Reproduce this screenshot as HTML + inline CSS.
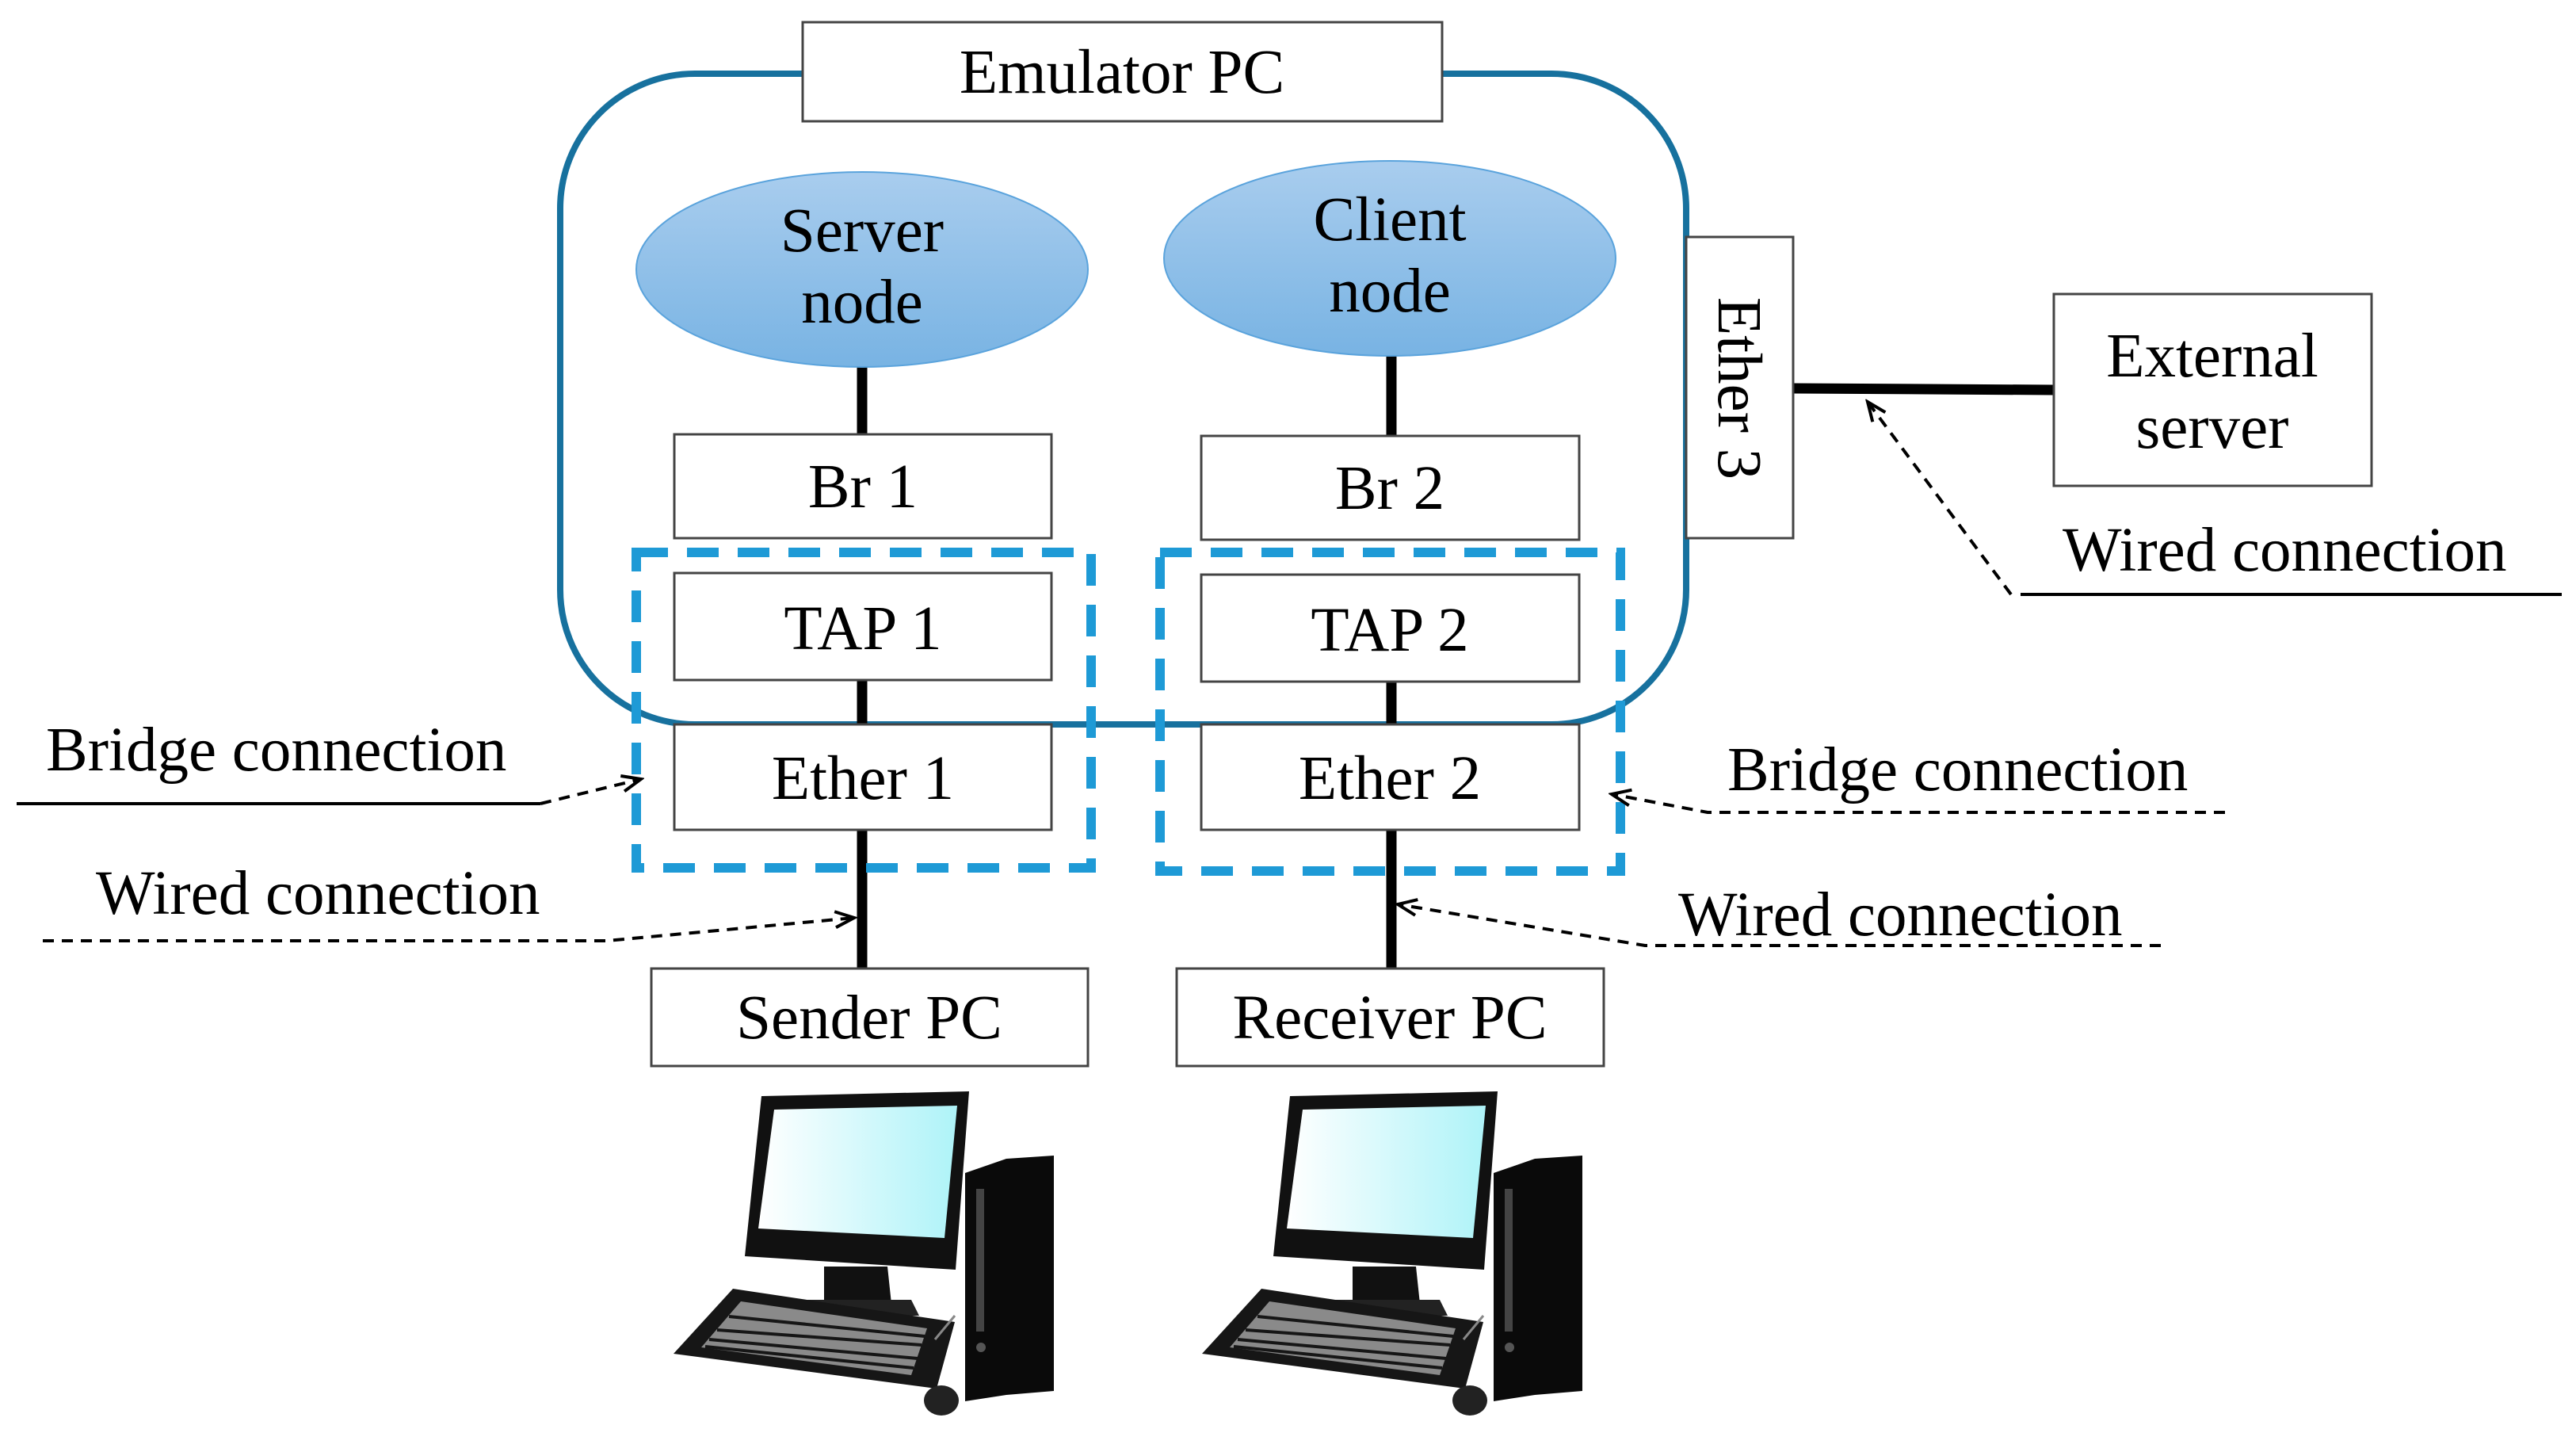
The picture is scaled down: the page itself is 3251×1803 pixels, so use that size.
<!DOCTYPE html>
<html><head><meta charset="utf-8"><style>
html,body{margin:0;padding:0;background:#fff;}
svg{display:block;}
text{font-family:"Liberation Serif",serif;font-size:79px;fill:#000;}
</style></head><body>
<svg width="3251" height="1803" viewBox="0 0 3251 1803" xmlns="http://www.w3.org/2000/svg">
<defs>
<linearGradient id="eg" x1="0" y1="0" x2="0" y2="1">
<stop offset="0" stop-color="#a9cdee"/><stop offset="1" stop-color="#78b3e3"/>
</linearGradient>
<linearGradient id="sg" x1="0" y1="0" x2="1" y2="0">
<stop offset="0" stop-color="#ffffff"/><stop offset="1" stop-color="#aef3f8"/>
</linearGradient>
<marker id="ah" markerWidth="30" markerHeight="30" refX="26" refY="12" orient="auto" markerUnits="userSpaceOnUse">
<path d="M2,2 L26,12 L2,22" fill="none" stroke="#000" stroke-width="4"/>
</marker>
</defs>
<g transform="translate(-4,-3)">
<rect x="711" y="96" width="1421" height="821" rx="170" fill="none" stroke="#17719e" stroke-width="8"/>
<rect x="1017" y="31" width="807" height="125" fill="#fff" stroke="#444" stroke-width="3"/>
<text x="1420" y="120" text-anchor="middle">Emulator PC</text>

<g stroke="#000" stroke-width="13">
<line x1="1092" y1="460" x2="1092" y2="553"/>
<line x1="1092" y1="861" x2="1092" y2="917"/>
<line x1="1092" y1="1050" x2="1092" y2="1225"/>
<line x1="1760" y1="445" x2="1760" y2="555"/>
<line x1="1760" y1="861" x2="1760" y2="917"/>
<line x1="1760" y1="1050" x2="1760" y2="1225"/>
<line x1="2267" y1="493" x2="2596" y2="495"/>
</g>

<ellipse cx="1092" cy="343" rx="285" ry="123" fill="url(#eg)" stroke="#5aa3dc" stroke-width="2"/>
<text x="1092" y="320" text-anchor="middle">Server</text>
<text x="1092" y="410" text-anchor="middle">node</text>
<ellipse cx="1758" cy="329" rx="285" ry="123" fill="url(#eg)" stroke="#5aa3dc" stroke-width="2"/>
<text x="1758" y="306" text-anchor="middle">Client</text>
<text x="1758" y="396" text-anchor="middle">node</text>

<g fill="#fff" stroke="#444" stroke-width="3">
<rect x="855" y="551" width="476" height="131"/>
<rect x="1520" y="553" width="477" height="131"/>
<rect x="855" y="726" width="476" height="135"/>
<rect x="1520" y="728" width="477" height="135"/>
<rect x="855" y="917" width="476" height="133"/>
<rect x="1520" y="917" width="477" height="133"/>
<rect x="826" y="1225" width="551" height="123"/>
<rect x="1489" y="1225" width="539" height="123"/>
<rect x="2132" y="302" width="135" height="380"/>
<rect x="2596" y="374" width="401" height="242"/>
</g>
<text x="1093" y="643" text-anchor="middle">Br 1</text>
<text x="1758" y="645" text-anchor="middle">Br 2</text>
<text x="1093" y="822" text-anchor="middle">TAP 1</text>
<text x="1758" y="824" text-anchor="middle">TAP 2</text>
<text x="1093" y="1011" text-anchor="middle">Ether 1</text>
<text x="1758" y="1011" text-anchor="middle">Ether 2</text>
<text x="1101" y="1313" text-anchor="middle">Sender PC</text>
<text x="1758" y="1313" text-anchor="middle">Receiver PC</text>
<text x="2796" y="478" text-anchor="middle">External</text>
<text x="2796" y="568" text-anchor="middle">server</text>
<text transform="translate(2173,493) rotate(90)" text-anchor="middle">Ether 3</text>

<g fill="none" stroke="#1e9ad6" stroke-width="12" stroke-dasharray="40,24">
<rect x="807" y="700" width="574" height="398"/>
<rect x="1468" y="700" width="581" height="402"/>
</g>

<text x="62" y="975">Bridge connection</text>
<line x1="25" y1="1017" x2="686" y2="1017" stroke="#000" stroke-width="4"/>
<line x1="686" y1="1017" x2="813" y2="986" stroke="#000" stroke-width="4" stroke-dasharray="14,10" marker-end="url(#ah)"/>

<text x="125" y="1156">Wired connection</text>
<polyline points="58,1190 770,1190 1082,1161" fill="none" stroke="#000" stroke-width="4" stroke-dasharray="14,10" marker-end="url(#ah)"/>

<text x="2184" y="1000">Bridge connection</text>
<polyline points="2812,1028 2159,1028 2038,1005" fill="none" stroke="#000" stroke-width="4" stroke-dasharray="14,10" marker-end="url(#ah)"/>

<text x="2122" y="1183">Wired connection</text>
<polyline points="2731,1196 2080,1196 1768,1144" fill="none" stroke="#000" stroke-width="4" stroke-dasharray="14,10" marker-end="url(#ah)"/>

<text x="2607" y="723">Wired connection</text>
<line x1="2554" y1="753" x2="3237" y2="753" stroke="#000" stroke-width="4"/>
<line x1="2542" y1="753" x2="2361" y2="510" stroke="#000" stroke-width="4" stroke-dasharray="14,10" marker-end="url(#ah)"/>
</g>

<g id="pc">
<!-- tower -->
<path d="M1218,1480 L1270,1462 L1330,1458 L1330,1755 L1270,1760 L1218,1768 Z" fill="#0a0a0a"/>
<rect x="1232" y="1500" width="10" height="180" fill="#444"/>
<circle cx="1238" cy="1700" r="6" fill="#555"/>
<!-- monitor stand -->
<path d="M1040,1598 L1120,1598 L1125,1645 L1040,1645 Z" fill="#111"/>
<path d="M1000,1640 L1150,1640 L1160,1660 L990,1660 Z" fill="#222"/>
<!-- monitor -->
<path d="M961,1383 L1223,1377 L1206,1602 L940,1585 Z" fill="#111"/>
<path d="M977,1400 L1208,1395 L1192,1562 L957,1550 Z" fill="url(#sg)"/>
<!-- keyboard -->
<path d="M850,1708 L925,1626 L1205,1668 L1182,1752 Z" fill="#161616"/>
<path d="M885,1700 L935,1642 L1170,1676 L1150,1735 Z" fill="#8a8a8a"/>
<g stroke="#161616" stroke-width="4">
<line x1="905" y1="1678" x2="1163" y2="1697"/>
<line x1="920" y1="1661" x2="1167" y2="1686"/>
<line x1="895" y1="1690" x2="1158" y2="1714"/>
<line x1="890" y1="1699" x2="1153" y2="1726"/>
</g>
<path d="M1180,1690 L1205,1660" stroke="#888" stroke-width="3" fill="none"/>
<ellipse cx="1188" cy="1767" rx="22" ry="19" fill="#222"/>
</g>
<use href="#pc" transform="translate(667,0)"/>
</svg>
</body></html>
